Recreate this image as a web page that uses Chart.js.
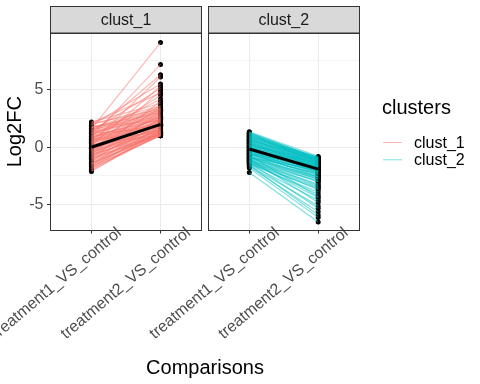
<!DOCTYPE html>
<html>
<head>
<meta charset="utf-8">
<script src="https://cdn.jsdelivr.net/npm/chart.js@4.4.0/dist/chart.umd.min.js"></script>
<style>
  body { margin: 0; background: #ffffff; }
  #wrap { position: relative; width: 480px; height: 384px; }
  #wrap canvas { position: absolute; left: 0; top: 0; }
</style>
</head>
<body>
<div id="wrap">
  <canvas id="panel1" width="480" height="384"></canvas>
  <canvas id="panel2" width="480" height="384"></canvas>
</div>
<script>
// x categories, facets and y ticks
var comparisons = ['treatment1_VS_control', 'treatment2_VS_control'];
var clusters = ['clust_1', 'clust_2'];
var yMajor = [-5, 0, 5];
var yMinor = [-2.5, 2.5, 7.5];

// Log2FC per gene: value for treatment1 and treatment2 (same index = same gene)
var clust1T1 = [1.6, 0.9, 1.2, 0.4, 1.9, 0.2, 1.4, -0.3, 2.1, 0.7,
                1.0, -0.6, 2.2, 0.5, 1.7, -0.1, 1.1, 0.3, -0.9, 1.5,
                0.8, -0.4, 0.0, 1.3, -1.2, 0.6, -0.7, 0.1, 1.8, -1.5,
                -0.2, 0.9, -1.0, 0.4, -1.8, -0.5, 1.2, -1.3, -0.8, 0.2,
                -2.1, -1.6, -0.3, -1.1, 0.7, -1.9, -1.4, -0.6, -2.0, -1.7,
                0.3, -0.9, -1.2, -0.1, 0.5, -0.4, 1.0, -1.5, 0.1, -0.7,
                1.55, 0.85, -0.15, 1.35, -1.05, 0.45, 1.95, -0.55, 0.65, -1.35,
                0.15, 1.15, -0.75, 2.05, 0.35, -1.65, 0.95, -0.25, 1.45, -0.95,
                0.55, -1.85, 1.75, 0.05, -0.45, 1.25, -1.45, 0.75, -0.05, 1.65];
var clust1T2 = [9.1, 7.2, 6.3, 6.1, 5.5, 5.3, 5.1, 4.9, 4.7, 4.5,
                4.2, 4.0, 3.8, 3.6, 3.5, 3.4, 3.3, 3.2, 3.1, 3.0,
                2.9, 2.8, 2.7, 2.6, 2.5, 2.5, 2.4, 2.3, 2.3, 2.2,
                2.1, 2.0, 2.0, 1.9, 1.8, 1.8, 1.7, 1.6, 1.6, 1.5,
                1.5, 1.4, 1.4, 1.3, 1.3, 1.2, 1.2, 1.1, 1.1, 1.0,
                1.0, 1.0, 1.2, 1.6, 2.2, 1.3, 2.4, 1.1, 1.9, 1.5,
                3.4, 2.6, 1.7, 2.9, 1.2, 2.1, 3.6, 1.5, 2.3, 1.1,
                1.8, 2.7, 1.4, 3.3, 2.0, 1.0, 2.5, 1.6, 3.1, 1.3,
                2.2, 1.05, 3.0, 1.9, 1.7, 2.8, 1.25, 2.4, 2.0, 3.2];
var clust2T1 = [1.35, 1.2, 1.1, 1.0, 0.95, 0.85, 0.8, 0.7, 0.6, 0.55,
                0.45, 0.4, 0.3, 0.25, 0.15, 0.1, 0.0, -0.05, -0.15, -0.2,
                -0.3, -0.35, -0.45, -0.5, -0.6, -0.65, -0.75, -0.8, -0.9, -0.95,
                -1.05, -1.1, -1.2, -1.25, -1.35, -1.4, -1.5, -1.6, -1.7, -1.8,
                -2.2, 1.25, 0.9, 0.65, 0.35, 0.05, -0.25, -0.55, -0.85, -1.15,
                1.05, 0.75, 0.5, 0.2, -0.1, -0.4, -0.7, -1.0, -1.3, -1.55,
                1.3, 1.15, 0.9, 0.7, 0.5, 0.35, 0.2, 0.05, -0.1, -0.25,
                -0.4, -0.55, -0.7, -0.85, -1.0, -1.15, -1.3, -1.45, 1.0, 0.6,
                0.15, -0.3, -0.6, -0.9, 1.2, 0.8, 0.4, 0.0, -0.5, -1.2];
var clust2T2 = [-0.8, -0.9, -1.0, -0.85, -1.1, -1.2, -0.95, -1.3, -1.05, -1.4,
                -1.15, -1.5, -1.25, -1.6, -1.35, -1.7, -1.45, -1.8, -1.55, -1.9,
                -2.0, -1.65, -2.2, -1.75, -2.4, -2.05, -2.7, -2.3, -3.0, -2.6,
                -3.3, -2.9, -3.7, -3.2, -4.1, -3.6, -4.6, -5.1, -5.6, -6.1,
                -6.5, -1.0, -1.2, -1.5, -1.7, -1.9, -2.2, -2.5, -2.8, -3.4,
                -1.1, -1.3, -1.6, -1.8, -2.1, -2.3, -4.3, -4.8, -5.3, -5.9,
                -1.0, -1.1, -0.9, -1.2, -1.35, -1.5, -1.4, -1.6, -1.75, -1.85,
                -2.0, -2.15, -2.35, -2.55, -2.75, -3.0, -3.5, -3.9, -1.25, -0.95,
                -1.1, -1.3, -1.6, -1.95, -1.4, -1.55, -1.8, -2.1, -2.6, -4.4];

// summary (black) line per cluster
var clust1Mean = [0.0, 1.98];
var clust2Mean = [-0.15, -1.9];

var clusterColors = ['rgba(248, 118, 109, 0.5)', 'rgba(0, 191, 196, 0.5)'];
var fontFamily = "'Liberation Sans', Arial, Helvetica, sans-serif";
Chart.defaults.font.family = fontFamily;

// strip, panel border, x title and legend (ggplot look)
var facetPlugin = {
    id: 'facet',
    beforeDraw: function(chart, args, opts) {
        var a = chart.chartArea;
        var c = chart.ctx;
        var l = Math.round(a.left) + 0.5;
        var r = Math.round(a.right) - 0.5;
        c.save();
        c.fillStyle = '#D9D9D9';
        c.fillRect(l, 6.5, r - l, Math.round(a.top) - 6.5);
        c.strokeStyle = '#333333';
        c.lineWidth = 1;
        c.strokeRect(l, 6.5, r - l, Math.round(a.top) - 6.5);
        c.fillStyle = '#1A1A1A';
        c.font = '16px ' + fontFamily;
        c.textAlign = 'center';
        c.textBaseline = 'middle';
        c.fillText(opts.label, (a.left + a.right) / 2, (6.5 + a.top) / 2 + 1);
        c.restore();
    },
    afterDatasetsDraw: function(chart, args, opts) {
        var a = chart.chartArea;
        var c = chart.ctx;
        var l = Math.round(a.left) + 0.5;
        var r = Math.round(a.right) - 0.5;
        var t = Math.round(a.top) + 0.5;
        var b = Math.round(a.bottom) - 0.5;
        c.save();
        c.strokeStyle = '#333333';
        c.lineWidth = 1;
        c.strokeRect(l, t, r - l, b - t);
        c.restore();
    },
    afterDraw: function(chart, args, opts) {
        var c = chart.ctx;
        c.save();
        if (opts.xTitle) {
            c.fillStyle = '#000000';
            c.font = '20px ' + fontFamily;
            c.textAlign = 'center';
            c.textBaseline = 'alphabetic';
            c.fillText(opts.xTitle, 205, 373.5);
        }
        if (opts.legend) {
            c.fillStyle = '#000000';
            c.font = '20px ' + fontFamily;
            c.textAlign = 'left';
            c.textBaseline = 'alphabetic';
            c.fillText('clusters', 382, 113.5);
            c.font = '16px ' + fontFamily;
            c.textBaseline = 'middle';
            for (var i = 0; i < clusters.length; i++) {
                var y = 142.5 + i * 17.3;
                c.strokeStyle = clusterColors[i];
                c.lineWidth = 1;
                c.beginPath();
                c.moveTo(383, y);
                c.lineTo(402, y);
                c.stroke();
                c.fillStyle = '#000000';
                c.fillText(clusters[i], 414, y + 1);
            }
        }
        c.restore();
    }
};

function noLabelClip() {
    return undefined;
}

function makePanel(canvasId, idx, t1, t2, mean, first) {
    var datasets = [];
    // mean line on top
    datasets.push({
        data: [{x: 1, y: mean[0]}, {x: 2, y: mean[1]}],
        showLine: true,
        borderColor: '#000000',
        borderWidth: 3,
        borderCapStyle: 'butt',
        pointRadius: 0,
        order: 0
    });
    var pts = [];
    for (var i = 0; i < t1.length; i++) {
        datasets.push({
            data: [{x: 1, y: t1[i]}, {x: 2, y: t2[i]}],
            showLine: true,
            borderColor: clusterColors[idx],
            borderWidth: 1.2,
            pointRadius: 0,
            order: 1
        });
        pts.push({x: 1, y: t1[i]});
        pts.push({x: 2, y: t2[i]});
    }
    // points under the lines
    datasets.push({
        data: pts,
        showLine: false,
        pointRadius: 2.5,
        pointBackgroundColor: '#000000',
        pointBorderWidth: 0,
        order: 2
    });

    return new Chart(document.getElementById(canvasId), {
        type: 'scatter',
        data: { datasets: datasets },
        plugins: [facetPlugin],
        options: {
            responsive: false,
            animation: false,
            events: [],
            layout: {
                padding: {
                    left: first ? 0 : 208,
                    right: first ? 278 : 120.5,
                    top: 33,
                    bottom: 33.5
                }
            },
            plugins: {
                legend: { display: false },
                tooltip: { enabled: false },
                facet: {
                    label: clusters[idx],
                    xTitle: first ? 'Comparisons' : null,
                    legend: !first
                }
            },
            scales: {
                x: {
                    type: 'linear',
                    min: 0.4,
                    max: 2.6,
                    afterBuildTicks: function(s) {
                        s.ticks = [{value: 1}, {value: 2}];
                    },
                    afterFit: function(s) {
                        s.height = 120;
                        s.paddingLeft = 0;
                        s.paddingRight = 0;
                        // labels may run up over the panel edge like in ggplot
                        s._computeLabelArea = noLabelClip;
                    },
                    border: { display: false },
                    grid: {
                        color: '#EBEBEB',
                        lineWidth: 1,
                        tickColor: '#333333',
                        tickLength: 3
                    },
                    ticks: {
                        color: '#4D4D4D',
                        font: { size: 16 },
                        autoSkip: false,
                        minRotation: 40,
                        maxRotation: 40,
                        labelOffset: 28,
                        padding: -10,
                        callback: function(v) {
                            return comparisons[v - 1];
                        }
                    }
                },
                y: {
                    min: -7.24,
                    max: 9.93,
                    afterBuildTicks: function(s) {
                        s.ticks = yMajor.concat(yMinor).sort(function(a, b) { return a - b; })
                            .map(function(v) { return {value: v}; });
                    },
                    afterFit: function(s) {
                        s.width = first ? 50 : 0;
                        s.paddingTop = 0;
                        s.paddingBottom = 0;
                    },
                    border: { display: false },
                    grid: {
                        color: '#EBEBEB',
                        lineWidth: function(ctx) {
                            return yMinor.indexOf(ctx.tick.value) >= 0 ? 0.6 : 1;
                        },
                        tickColor: function(ctx) {
                            return yMinor.indexOf(ctx.tick.value) >= 0 ? 'rgba(0,0,0,0)' : '#333333';
                        },
                        drawTicks: first,
                        tickLength: 3
                    },
                    ticks: {
                        display: first,
                        color: '#4D4D4D',
                        font: { size: 16 },
                        padding: 3.5,
                        callback: function(v) {
                            return yMajor.indexOf(v) >= 0 ? String(v) : '';
                        }
                    },
                    title: {
                        display: first,
                        text: 'Log2FC',
                        color: '#000000',
                        font: { size: 20 },
                        padding: { top: 3, bottom: 0 }
                    }
                }
            }
        }
    });
}

makePanel('panel1', 0, clust1T1, clust1T2, clust1Mean, true);
makePanel('panel2', 1, clust2T1, clust2T2, clust2Mean, false);
</script>
</body>
</html>
